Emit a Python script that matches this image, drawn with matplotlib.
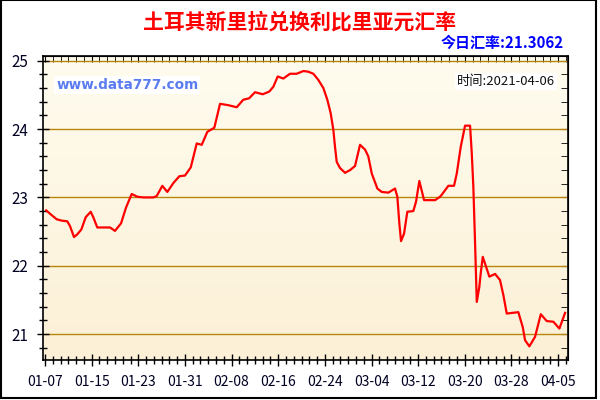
import numpy as np
import matplotlib
matplotlib.use("Agg")
import matplotlib.pyplot as plt
from matplotlib.ticker import MultipleLocator, FixedLocator, NullFormatter
from matplotlib.patches import Rectangle

plt.rcParams['font.family'] = ['Noto Sans CJK SC', 'DejaVu Sans']

# days since 2021-01-07
days = [0.2, 1.15, 2.0, 2.86, 3.82, 4.29, 4.97, 5.54, 6.23, 6.98, 7.84, 8.28, 8.97,
        11.15, 12.0, 13.04, 13.89, 14.87, 15.83, 16.86, 18.58, 19.16, 20.12, 20.98,
        22.01, 23.04, 24.01, 25.0, 26.02, 26.88, 27.84, 29.04, 30.02, 31.44, 32.88,
        34.01, 34.99, 36.02, 37.34, 38.47, 39.16, 39.91, 40.87, 42.02, 43.17, 44.31,
        45.16, 46.02, 46.88, 47.74, 48.42, 49.0, 49.45, 49.74, 50.03, 50.6, 51.46,
        52.32, 53.17, 54.03, 54.89, 55.45, 56.04, 57.0, 57.75, 58.89, 60.03, 60.43,
        60.77, 61.06, 61.58, 62.14, 63.17, 63.64, 64.2, 65.01, 66.9, 67.75, 68.05,
        69.18, 70.15, 70.62, 71.3, 72.04, 72.9, 73.19, 73.46, 73.76, 74.05, 74.49,
        74.73, 75.08, 75.47, 76.21, 77.19, 78.04, 78.61, 79.19, 81.18, 81.94, 82.33,
        83.07, 84.05, 85.03, 86.05, 87.19, 88.22, 89.19]
rates = [22.81, 22.74, 22.68, 22.66, 22.65, 22.58, 22.42, 22.46, 22.53, 22.71, 22.79,
         22.71, 22.56, 22.56, 22.51, 22.62, 22.85, 23.05, 23.01, 23.00, 23.00, 23.02,
         23.17, 23.08, 23.21, 23.31, 23.32, 23.44, 23.79, 23.77, 23.96, 24.02, 24.37,
         24.35, 24.32, 24.43, 24.45, 24.54, 24.51, 24.55, 24.62, 24.77, 24.74, 24.81,
         24.81, 24.85, 24.84, 24.81, 24.72, 24.60, 24.43, 24.23, 23.99, 23.74, 23.52,
         23.43, 23.36, 23.40, 23.46, 23.77, 23.70, 23.60, 23.35, 23.13, 23.08, 23.07,
         23.13, 23.01, 22.62, 22.36, 22.47, 22.79, 22.80, 22.94, 23.24, 22.96, 22.96,
         23.01, 23.04, 23.17, 23.17, 23.35, 23.74, 24.05, 24.05, 23.65, 23.16, 22.33,
         21.47, 21.69, 21.89, 22.13, 22.03, 21.84, 21.88, 21.79, 21.57, 21.30, 21.32,
         21.10, 20.91, 20.82, 20.96, 21.29, 21.19, 21.18, 21.08, 21.31]

tick_days = [0, 8, 16, 24, 32, 40, 48, 56, 64, 72, 80, 88]
tick_labels = ['01-07', '01-15', '01-23', '01-31', '02-08', '02-16', '02-24',
               '03-04', '03-12', '03-20', '03-28', '04-05']

fig = plt.figure(figsize=(6, 4), dpi=100)
fig.patch.set_facecolor('white')
fig.patches.append(Rectangle((0.001, 0.004), 0.993, 0.995, transform=fig.transFigure,
                             fill=False, edgecolor='black', linewidth=1.5))

ax = fig.add_axes([0.0717, 0.1, 0.875, 0.76])
xmin, xmax = -0.34, 89.7
ymin, ymax = 20.62, 25.07

# cream gradient background, light at top
grad = np.linspace(0, 1, 256).reshape(-1, 1)
cmap = matplotlib.colors.LinearSegmentedColormap.from_list('bg', ['#fffcef', '#fcf0d6'])
ax.imshow(grad, aspect='auto', cmap=cmap, extent=[xmin, xmax, ymin, ymax],
          origin='upper', zorder=0)

for v in [21, 22, 23, 24, 25]:
    ax.axhline(v, color='#b8860b', lw=1, zorder=1)

ax.plot(days, rates, color='red', lw=1.6, zorder=3)

ax.set_xlim(xmin, xmax)
ax.set_ylim(ymin, ymax)

ax.xaxis.set_major_locator(FixedLocator(tick_days))
ax.set_xticklabels(tick_labels)
ax.xaxis.set_minor_locator(FixedLocator(np.arange(0, 90, 8 / 6)))
ax.yaxis.set_major_locator(MultipleLocator(1))
ax.yaxis.set_minor_locator(MultipleLocator(0.2))
ax.tick_params(which='major', direction='inout', length=9, width=1, labelsize=10,
               labelcolor='#000022')
ax.tick_params(which='minor', direction='inout', length=6, width=1)
ax.tick_params(axis='y', which='major', labelsize=11, pad=6)
ax.tick_params(axis='x', which='major', pad=6)
for s in ax.spines.values():
    s.set_linewidth(1.2)

top = ax.secondary_xaxis('top')
top.xaxis.set_major_locator(FixedLocator(tick_days))
top.xaxis.set_minor_locator(FixedLocator(np.arange(0, 90, 8 / 6)))
top.xaxis.set_major_formatter(NullFormatter())
top.tick_params(which='both', direction='in', length=4)
right = ax.secondary_yaxis('right')
right.yaxis.set_major_locator(MultipleLocator(1))
right.yaxis.set_minor_locator(MultipleLocator(0.2))
right.yaxis.set_major_formatter(NullFormatter())
right.tick_params(which='both', direction='in', length=5)

fig.text(0.5, 0.945, '土耳其新里拉兑换利比里亚元汇率', color='red', fontsize=15,
         fontweight='bold', ha='center', va='center')
fig.text(0.94, 0.893, '今日汇率:21.3062', color='blue', fontsize=10.8,
         fontweight='bold', ha='right', va='center')
ax.text(0.025, 0.905, 'www.data777.com', transform=ax.transAxes, color='#5a7cf0',
        fontsize=9.8, fontweight='bold', family='DejaVu Sans', va='center',
        bbox=dict(facecolor='white', edgecolor='none', pad=1.5))
ax.text(0.975, 0.915, '时间:2021-04-06', transform=ax.transAxes, color='#111111',
        fontsize=9.5, ha='right', va='center',
        bbox=dict(facecolor='white', edgecolor='none', pad=1.5))

fig.savefig('out.png', dpi=100)
